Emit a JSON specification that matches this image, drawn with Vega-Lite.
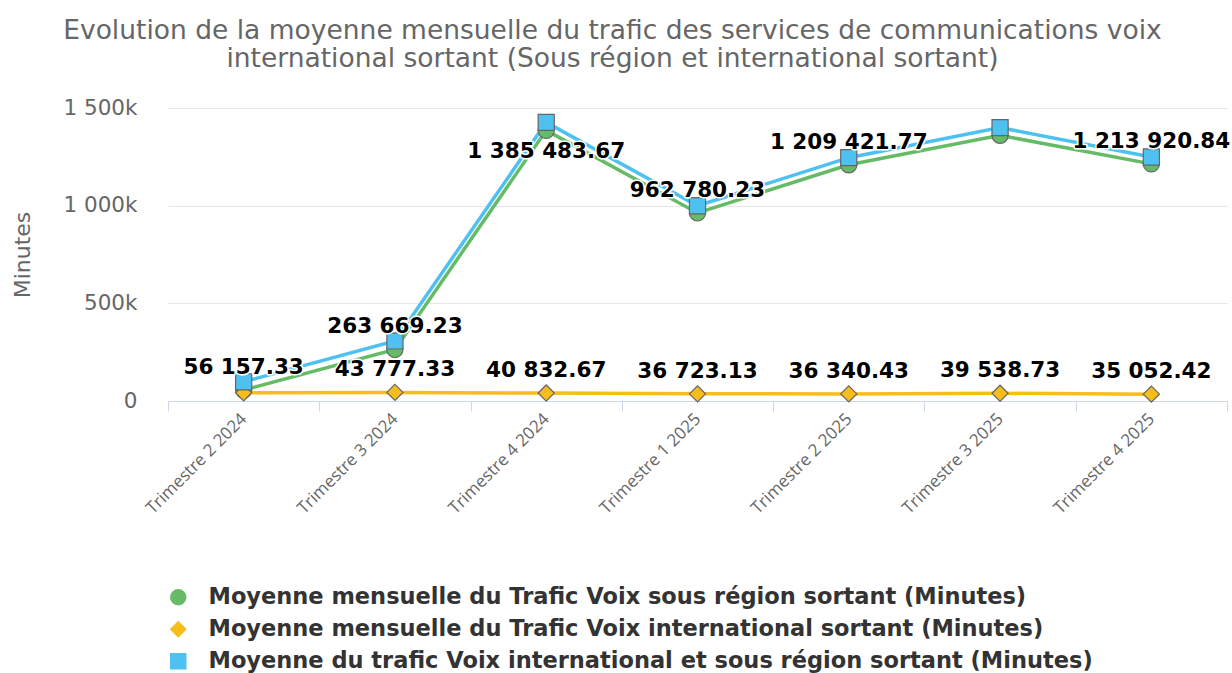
{
  "$schema": "https://vega.github.io/schema/vega-lite/v6.json",
  "width": 1059,
  "height": 293,
  "autosize": {"type": "none"},
  "padding": {"left": 168, "top": 108, "right": 5, "bottom": 272},
  "background": "white",
  "title": {
    "text": ["Evolution de la moyenne mensuelle du trafic des services de communications voix", "international sortant (Sous région et international sortant)"],
    "font": "DejaVu Sans", "fontSize": 26.5, "fontWeight": "normal", "color": "#666666",
    "anchor": "middle", "frame": "group", "dx": -85, "offset": 25, "lineHeight": 28
  },
  "data": {"values": [
    {"periode": "Trimestre 2 2024", "serie": "Moyenne mensuelle du Trafic Voix sous région sortant (Minutes)", "valeur": 56157.33},
    {"periode": "Trimestre 3 2024", "serie": "Moyenne mensuelle du Trafic Voix sous région sortant (Minutes)", "valeur": 263669.23},
    {"periode": "Trimestre 4 2024", "serie": "Moyenne mensuelle du Trafic Voix sous région sortant (Minutes)", "valeur": 1385483.67},
    {"periode": "Trimestre 1 2025", "serie": "Moyenne mensuelle du Trafic Voix sous région sortant (Minutes)", "valeur": 962780.23},
    {"periode": "Trimestre 2 2025", "serie": "Moyenne mensuelle du Trafic Voix sous région sortant (Minutes)", "valeur": 1209421.77},
    {"periode": "Trimestre 3 2025", "serie": "Moyenne mensuelle du Trafic Voix sous région sortant (Minutes)", "valeur": 1360000},
    {"periode": "Trimestre 4 2025", "serie": "Moyenne mensuelle du Trafic Voix sous région sortant (Minutes)", "valeur": 1213920.84},
    {"periode": "Trimestre 2 2024", "serie": "Moyenne mensuelle du Trafic Voix international sortant (Minutes)", "valeur": 42000},
    {"periode": "Trimestre 3 2024", "serie": "Moyenne mensuelle du Trafic Voix international sortant (Minutes)", "valeur": 43777.33},
    {"periode": "Trimestre 4 2024", "serie": "Moyenne mensuelle du Trafic Voix international sortant (Minutes)", "valeur": 40832.67},
    {"periode": "Trimestre 1 2025", "serie": "Moyenne mensuelle du Trafic Voix international sortant (Minutes)", "valeur": 36723.13},
    {"periode": "Trimestre 2 2025", "serie": "Moyenne mensuelle du Trafic Voix international sortant (Minutes)", "valeur": 36340.43},
    {"periode": "Trimestre 3 2025", "serie": "Moyenne mensuelle du Trafic Voix international sortant (Minutes)", "valeur": 39538.73},
    {"periode": "Trimestre 4 2025", "serie": "Moyenne mensuelle du Trafic Voix international sortant (Minutes)", "valeur": 35052.42},
    {"periode": "Trimestre 2 2024", "serie": "Moyenne du trafic Voix international et sous région sortant (Minutes)", "valeur": 98157.33},
    {"periode": "Trimestre 3 2024", "serie": "Moyenne du trafic Voix international et sous région sortant (Minutes)", "valeur": 307446.56},
    {"periode": "Trimestre 4 2024", "serie": "Moyenne du trafic Voix international et sous région sortant (Minutes)", "valeur": 1426316.34},
    {"periode": "Trimestre 1 2025", "serie": "Moyenne du trafic Voix international et sous région sortant (Minutes)", "valeur": 999503.36},
    {"periode": "Trimestre 2 2025", "serie": "Moyenne du trafic Voix international et sous région sortant (Minutes)", "valeur": 1245762.2},
    {"periode": "Trimestre 3 2025", "serie": "Moyenne du trafic Voix international et sous région sortant (Minutes)", "valeur": 1399538.73},
    {"periode": "Trimestre 4 2025", "serie": "Moyenne du trafic Voix international et sous région sortant (Minutes)", "valeur": 1248973.26}
  ]},
  "encoding": {
    "x": {
      "field": "periode", "type": "nominal", "sort": null,
      "scale": {"type": "band", "paddingInner": 0, "paddingOuter": 0},
      "axis": {
        "title": null, "labelAngle": -45, "labelAlign": "right", "labelBaseline": "middle",
        "labelFont": "Open Sans", "labelFontSize": 17, "labelColor": "#666666", "labelPadding": 5,
        "tickBand": "extent", "tickColor": "#ccd6eb", "tickSize": 10, "domainColor": "#ccd6eb", "domainWidth": 1, "grid": false
      }
    },
    "y": {
      "field": "valeur", "type": "quantitative",
      "scale": {"domain": [0, 1500000], "nice": false},
      "axis": {
        "title": "Minutes", "titleFont": "DejaVu Sans", "titleFontSize": 22, "titleFontWeight": "normal", "titleColor": "#666666", "titlePadding": 28,
        "values": [0, 500000, 1000000, 1500000],
        "labelExpr": "datum.value == 0 ? '0' : replace(format(datum.value / 1000, ','), ',', ' ') + 'k'",
        "labelFont": "DejaVu Sans", "labelFontSize": 21.5, "labelColor": "#666666", "labelPadding": 31,
        "domain": false, "ticks": false, "gridColor": "#e6e6e6", "gridWidth": 1
      }
    }
  },
  "layer": [
    {
      "mark": {"type": "line", "strokeWidth": 3.5},
      "encoding": {
        "color": {
          "field": "serie", "type": "nominal",
          "scale": {
            "domain": ["Moyenne mensuelle du Trafic Voix sous région sortant (Minutes)", "Moyenne mensuelle du Trafic Voix international sortant (Minutes)", "Moyenne du trafic Voix international et sous région sortant (Minutes)"],
            "range": ["#66bb66", "#f7bd1b", "#4fc1f0"]
          }
        }
      }
    },
    {
      "mark": {"type": "point", "filled": true, "size": 260, "stroke": "#666666", "strokeWidth": 1.2, "opacity": 1},
      "encoding": {
        "color": {
          "field": "serie", "type": "nominal",
          "scale": {
            "domain": ["Moyenne mensuelle du Trafic Voix sous région sortant (Minutes)", "Moyenne mensuelle du Trafic Voix international sortant (Minutes)", "Moyenne du trafic Voix international et sous région sortant (Minutes)"],
            "range": ["#66bb66", "#f7bd1b", "#4fc1f0"]
          },
          "legend": {
            "orient": "none", "legendX": -1, "legendY": 478, "title": null, "direction": "vertical",
            "labelFont": "DejaVu Sans", "labelFontSize": 22.5, "labelFontWeight": "bold", "labelColor": "#333333",
            "labelLimit": 1000, "symbolSize": 225, "labelOffset": 19, "rowPadding": 9, "padding": 0,
            "symbolStrokeWidth": 1.5, "symbolOpacity": 1
          }
        },
        "shape": {
          "field": "serie", "type": "nominal",
          "scale": {
            "domain": ["Moyenne mensuelle du Trafic Voix sous région sortant (Minutes)", "Moyenne mensuelle du Trafic Voix international sortant (Minutes)", "Moyenne du trafic Voix international et sous région sortant (Minutes)"],
            "range": ["circle", "diamond", "square"]
          }
        }
      }
    },
    {
      "transform": [{"filter": "(indexof(datum.serie,'Voix sous')>=0 && datum.periode != 'Trimestre 3 2025' && datum.periode != 'Trimestre 4 2024') || (indexof(datum.serie,'international sortant')>=0 && datum.periode != 'Trimestre 2 2024')"}],
      "layer": [
        {
          "mark": {"type": "text", "font": "DejaVu Sans", "fontSize": 21.5, "fontWeight": "bold", "baseline": "middle", "align": "center", "dy": -22, "stroke": "white", "strokeWidth": 3, "strokeJoin": "round", "fill": "white"},
          "encoding": {"text": {"field": "valeur", "type": "quantitative", "format": ",.2f"}}
        },
        {
          "mark": {"type": "text", "font": "DejaVu Sans", "fontSize": 21.5, "fontWeight": "bold", "baseline": "middle", "align": "center", "dy": -22, "fill": "#000000"},
          "encoding": {"text": {"field": "valeur", "type": "quantitative", "format": ",.2f"}}
        }
      ]
    },
    {
      "transform": [{"filter": "indexof(datum.serie,'Voix sous')>=0 && datum.periode == 'Trimestre 4 2024'"}],
      "layer": [
        {
          "mark": {"type": "text", "font": "DejaVu Sans", "fontSize": 21.5, "fontWeight": "bold", "baseline": "middle", "align": "center", "dy": 22, "stroke": "white", "strokeWidth": 3, "strokeJoin": "round", "fill": "white"},
          "encoding": {"text": {"field": "valeur", "type": "quantitative", "format": ",.2f"}}
        },
        {
          "mark": {"type": "text", "font": "DejaVu Sans", "fontSize": 21.5, "fontWeight": "bold", "baseline": "middle", "align": "center", "dy": 22, "fill": "#000000"},
          "encoding": {"text": {"field": "valeur", "type": "quantitative", "format": ",.2f"}}
        }
      ]
    }
  ],
  "config": {
    "locale": {"number": {"decimal": ".", "thousands": " ", "grouping": [3], "currency": ["", ""]}},
    "view": {"stroke": null}
  }
}
